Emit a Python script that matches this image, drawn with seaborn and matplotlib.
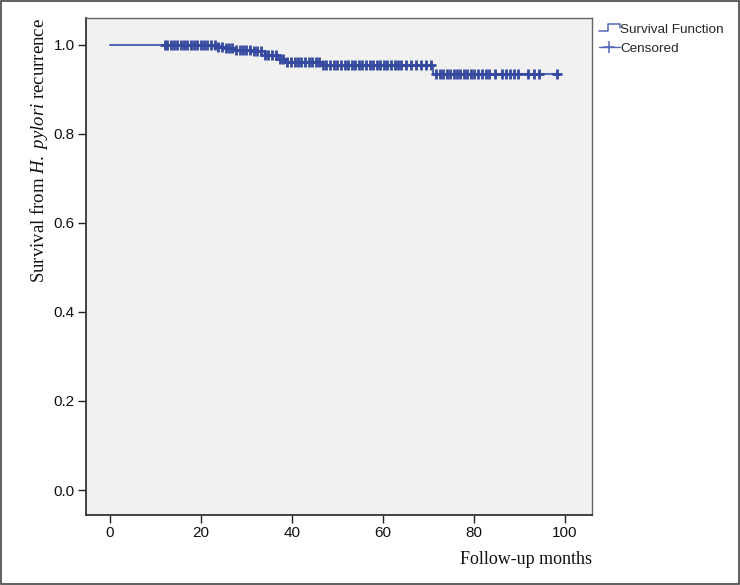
import numpy as np
import pandas as pd
import matplotlib
matplotlib.use("Agg")
import matplotlib.pyplot as plt
import seaborn as sns
from matplotlib.lines import Line2D
from matplotlib.legend_handler import HandlerBase
from matplotlib.patches import Rectangle

# ---- data ----
event_times = [0, 23.5, 25.0, 27.0, 31.0, 34.0, 37.0, 38.5, 46.5, 71.0]
survival = [1.0, 0.996, 0.992, 0.988, 0.985, 0.977, 0.969, 0.962, 0.955, 0.934]
censor_times = [
    12.0, 12.6, 13.3, 14.0, 14.7, 15.5, 16.2, 16.9, 17.7, 18.4, 19.2, 19.9,
    20.7, 21.4, 22.2, 23.0, 23.8, 24.6, 25.4, 26.1, 26.9, 27.7, 28.5, 29.3,
    30.0, 30.8, 31.6, 32.4, 33.2, 34.0, 34.8, 35.6, 36.4, 37.3, 38.1, 39.0,
    39.8, 40.6, 41.4, 42.1, 42.9, 43.7, 44.5, 45.3, 46.0, 46.8, 47.6, 48.4,
    49.2, 50.0, 50.8, 51.6, 52.4, 53.1, 53.9, 54.7, 55.5, 56.3, 57.1, 57.9,
    58.7, 59.4, 60.2, 61.0, 61.8, 62.6, 63.3, 64.0, 65.1, 66.2, 67.3, 68.4,
    69.5, 70.5, 71.6, 72.5, 73.3, 74.0, 74.8, 75.6, 76.3, 77.0, 77.8, 78.6,
    79.3, 80.1, 81.0, 81.8, 82.6, 83.4, 84.6, 86.2, 87.0, 87.9, 88.8, 89.7,
    91.9, 93.2, 94.3, 98.2,
]
x_ticks = [0, 20, 40, 60, 80, 100]
y_ticks = [0.0, 0.2, 0.4, 0.6, 0.8, 1.0]

line_color = "#5568b4"
mark_color = "#3549a0"

sns.set_style("white")
plt.rcParams["font.family"] = ["Liberation Sans", "DejaVu Sans"]
plt.rcParams["mathtext.fontset"] = "custom"
plt.rcParams["mathtext.rm"] = "Liberation Serif"
plt.rcParams["mathtext.it"] = "Liberation Serif:italic"

# step curve extended to the last follow-up time
step_df = pd.DataFrame({
    "t": event_times + [max(censor_times)],
    "s": survival + [survival[-1]],
})
idx = np.searchsorted(np.array(event_times), np.array(censor_times), side="right") - 1
cens_df = pd.DataFrame({"t": censor_times, "s": np.array(survival)[idx]})

fig = plt.figure(figsize=(7.4, 5.85), dpi=100)
fig.patch.set_facecolor("white")
ax = fig.add_axes([86 / 740, 70 / 585, (592 - 86) / 740, (515 - 18) / 585])
ax.set_facecolor("#f1f1f1")

sns.lineplot(data=step_df, x="t", y="s", drawstyle="steps-post", estimator=None,
             sort=False, color=line_color, linewidth=1.5, ax=ax)
sns.scatterplot(data=cens_df, x="t", y="s", marker="+", s=50, linewidth=2.0,
                color=mark_color, ax=ax, zorder=3)

ax.set_xlim(-5.3, 106.0)
ax.set_ylim(-0.056, 1.06)
ax.set_xticks(x_ticks)
ax.set_xticklabels([str(v) for v in x_ticks])
ax.set_yticks(y_ticks)
ax.set_yticklabels([f"{v:.1f}" for v in y_ticks])
ax.tick_params(axis="both", direction="out", length=6, width=1.0,
               color="#222222", labelsize=11, labelcolor="#111111", pad=2)
ax.tick_params(axis="both", bottom=True, left=True)

for side in ["left", "bottom"]:
    ax.spines[side].set_color("#333333")
    ax.spines[side].set_linewidth(1.3)
for side in ["top", "right"]:
    ax.spines[side].set_color("#666666")
    ax.spines[side].set_linewidth(1.0)

ax.set_xlabel("Follow-up months", loc="right", fontsize=13,
              family="Liberation Serif", labelpad=8, color="#111111")
ax.set_ylabel(r"Survival from $\mathit{H.\ pylori}$ recurrence", fontsize=13.5,
              family="Liberation Serif", labelpad=3, color="#111111", loc="top")


class StepHandler(HandlerBase):
    def create_artists(self, legend, orig_handle, xdescent, ydescent, width,
                       height, fontsize, trans):
        w, h = width, height
        xs = [0, w * 0.45, w * 0.45, w, w]
        ys = [h * 0.15, h * 0.15, h * 0.9, h * 0.9, h * 0.55]
        ln = Line2D(xs, ys, color=line_color, linewidth=1.1, transform=trans)
        return [ln]


h_surv = Line2D([], [], color=line_color)
h_cens = Line2D([], [], color=line_color, marker="+", markersize=9,
                linewidth=1.0, markeredgewidth=1.1)
leg = fig.legend([h_surv, h_cens], ["Survival Function", "Censored"],
                 handler_map={h_surv: StepHandler()},
                 loc="upper left", bbox_to_anchor=(594 / 740, 1 - 18 / 585),
                 frameon=False, fontsize=9.7, handlelength=1.5, handletextpad=0.05,
                 labelspacing=0.5, borderaxespad=0)

fig.add_artist(Rectangle((0.001, 0.001), 0.997, 0.997, transform=fig.transFigure,
                         fill=False, edgecolor="#444444", linewidth=1.2))

fig.savefig("out.png", dpi=100, facecolor="white")
